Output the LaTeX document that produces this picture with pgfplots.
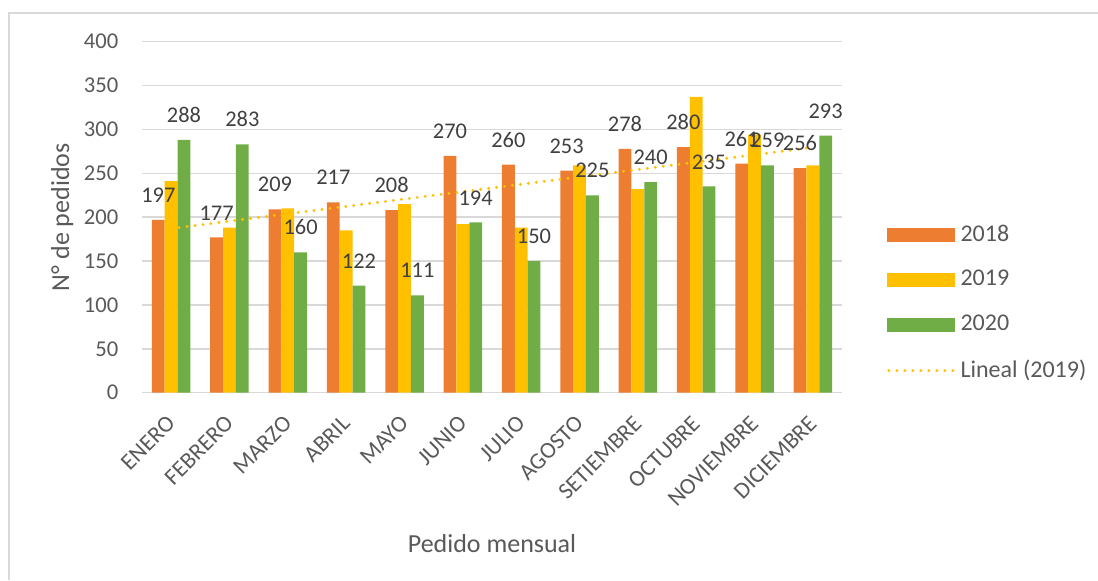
\documentclass[border=0pt]{standalone}
\usepackage{fontspec}
\setmainfont{Carlito}
\usepackage{pgfplots}
\pgfplotsset{compat=1.18}
\definecolor{c18}{HTML}{ED7D31}
\definecolor{c19}{HTML}{FFC000}
\definecolor{c20}{HTML}{70AD47}
\definecolor{gridc}{HTML}{D9D9D9}
\definecolor{tickc}{HTML}{595959}
\definecolor{labc}{HTML}{404040}
\pgfplotsset{/pgf/number format/assume math mode=true}
\begin{document}
\fontsize{11}{13}\selectfont
\begin{tikzpicture}
\useasboundingbox (-71pt,-93.65pt) rectangle (478pt,196.35pt);
\draw[gridc, line width=0.75pt] (-66.5pt,-93.65pt) -- (-66.5pt,189.85pt) -- (478pt,189.85pt);
\begin{axis}[
  at={(0pt,0pt)}, anchor=south west,
  scale only axis, width=350pt, height=175.5pt,
  xmin=-0.5, xmax=11.5, ymin=0, ymax=400,
  enlargelimits=false,
  ybar, bar width=0.22,
  xtick={0,...,11},
  xticklabels={ENERO,FEBRERO,MARZO,ABRIL,MAYO,JUNIO,JULIO,AGOSTO,SETIEMBRE,OCTUBRE,NOVIEMBRE,DICIEMBRE},
  ytick={0,50,...,400},
  major tick length=0pt,
  ymajorgrids, grid style={gridc, line width=0.75pt},
  axis lines*=left,
  y axis line style={draw=none},
  x axis line style={gridc, line width=0.75pt},
  tick label style={text=tickc, font=\fontsize{11.3}{13}\selectfont},
  yticklabel style={xshift=-8pt},
  xticklabel style={rotate=45, anchor=east, yshift=-9.5pt, xshift=-5.8pt, font=\fontsize{11.6}{13}\selectfont},
  ylabel={N° de pedidos}, xlabel={Pedido mensual},
  label style={text=tickc, font=\fontsize{13}{15}\selectfont},
  ylabel style={at={(axis description cs:-0.114,0.5)}, anchor=center},
  xlabel style={at={(axis description cs:0.5,-0.4285)}, anchor=center},
  every node near coord/.append style={text=labc, yshift=4.8pt, font=\fontsize{11.2}{13}\selectfont},
  legend style={at={(1.0636,0.256)}, anchor=west, draw=none, fill=none,
    text=tickc, row sep=9pt, inner sep=0pt, font=\fontsize{12}{14}\selectfont},
  legend cell align=left,
  clip=false,
]
\addplot[fill=c18, draw=none, bar shift=-0.22, nodes near coords,
  legend image code/.code={\fill[c18] (0pt,-3.5pt) rectangle (34pt,3.5pt);}]
  coordinates {(0,197) (1,177) (2,209) (3,217) (4,208) (5,270) (6,260) (7,253) (8,278) (9,280) (10,261) (11,256)};
\addlegendentry{2018}
\addplot[fill=c19, draw=none, bar shift=0,
  legend image code/.code={\fill[c19] (0pt,-3.5pt) rectangle (34pt,3.5pt);}]
  coordinates {(0,241) (1,188) (2,210) (3,185) (4,215) (5,192) (6,188) (7,259) (8,232) (9,337) (10,294) (11,259)};
\addlegendentry{2019}
\addplot[fill=c20, draw=none, bar shift=0.22, nodes near coords,
  legend image code/.code={\fill[c20] (0pt,-3.5pt) rectangle (34pt,3.5pt);}]
  coordinates {(0,288) (1,283) (2,160) (3,122) (4,111) (5,194) (6,150) (7,225) (8,240) (9,235) (10,259) (11,293)};
\addlegendentry{2020}
\addplot[sharp plot, c19, line width=1.6pt, line cap=round, dash pattern=on 0pt off 4pt, mark=none,
  legend image code/.code={\draw[c19, line width=1.6pt, line cap=round, dash pattern=on 0pt off 4pt] (1pt,0pt) -- (34pt,0pt);}]
  coordinates {(0,187.1) (11,279.6)};
\addlegendentry{Lineal (2019)}
\end{axis}
\end{tikzpicture}
\end{document}
